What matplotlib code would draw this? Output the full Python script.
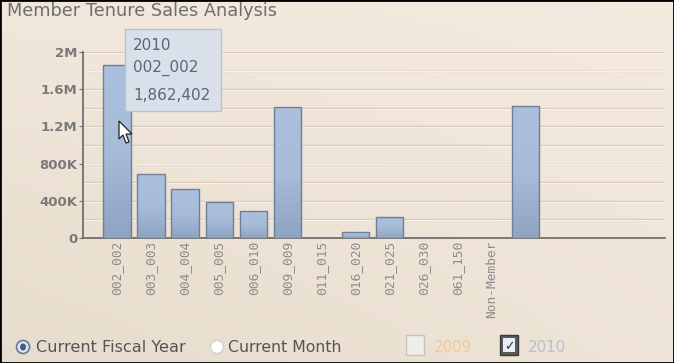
import numpy as np
import matplotlib
matplotlib.use("Agg")
import matplotlib.pyplot as plt
from matplotlib.patches import Rectangle, Ellipse, Polygon
from matplotlib.colors import LinearSegmentedColormap

# data
categories = ["002_002", "003_003", "004_004", "005_005", "006_010", "009_009",
              "011_015", "016_020", "021_025", "026_030", "061_150", "Non-Member", ""]
sales_2010 = [1862402, 690000, 523000, 387000, 290000, 1405000,
              0, 61000, 226000, 0, 0, 0, 1416000]
y_ticks = [0, 400000, 800000, 1200000, 1600000, 2000000]
y_tick_labels = ["0", "400K", "800K", "1.2M", "1.6M", "2M"]

W, H = 674, 363
fig = plt.figure(figsize=(W / 100, H / 100), dpi=100)

# beige background gradient
bg = fig.add_axes([0, 0, 1, 1], zorder=-10)
yy, xx = np.mgrid[0:1:100j, 0:1:100j]
top = np.array([0.955, 0.915, 0.870])
bot = np.array([0.905, 0.865, 0.805])
t = (1 - yy)[..., None] * 0.8 + (1 - xx)[..., None] * 0.2
img = bot * t + top * (1 - t)
img = img + (xx * (1 - yy))[..., None] * np.array([0.02, 0.02, 0.025])
bg.imshow(np.clip(img, 0, 1), extent=[0, 1, 0, 1], aspect="auto", origin="lower")
bg.set_xlim(0, 1)
bg.set_ylim(0, 1)
bg.axis("off")

ax = fig.add_axes([83 / W, 1 - 238 / H, (665 - 83) / W, (238 - 52) / H])
ax.patch.set_alpha(0)
x = np.arange(len(categories))
bars = ax.bar(x, sales_2010, width=0.8, color="#a3b9d6", linewidth=0, zorder=3)

grad = np.linspace(0, 1, 50)[:, None]
cmap = LinearSegmentedColormap.from_list("b", ["#8ea4c2", "#a6bcd9", "#abc0dc"])
for b in bars:
    if b.get_height() <= 0:
        continue
    im = ax.imshow(grad, cmap=cmap, aspect="auto", origin="lower", zorder=3.5,
                   extent=[b.get_x(), b.get_x() + b.get_width(), 0, b.get_height()])
    im.set_clip_path(b)
# outlines on top of the gradient
ax.bar(x, sales_2010, width=0.8, fill=False, edgecolor="#6f7f95", linewidth=1.0, zorder=4)

ax.set_xlim(-1, 16.1)
ax.set_ylim(0, 2000000)
for v in np.arange(200000, 2000001, 200000):
    ax.axhline(v, color="#d9cbbb", lw=1.0, zorder=1)
    ax.axhline(v - 9000, color="#f8efe6", lw=0.8, zorder=1)

ax.set_yticks(y_ticks)
ax.set_yticklabels(y_tick_labels, color="#7a7a7a", fontsize=9.5, fontweight="bold")
ax.set_xticks(x)
ax.set_xticklabels(categories, rotation=90, color="#8c8c8c", fontsize=9.3,
                   family="DejaVu Sans Mono")
ax.tick_params(axis="x", length=0, pad=2)
ax.tick_params(axis="y", length=3, color="#777777", pad=1)
for s in ["top", "right"]:
    ax.spines[s].set_visible(False)
ax.spines["left"].set_color("#666666")
ax.spines["bottom"].set_color("#666666")
ax.spines["left"].set_linewidth(1.2)
ax.spines["bottom"].set_linewidth(1.2)

# title
fig.text(7 / W, 1 - 11 / H, "Member Tenure Sales Analysis", color="#6e6e6e",
         fontsize=12.8, va="center", ha="left")

# tooltip
tip = Rectangle((125 / W, 1 - 111 / H), 96 / W, 82 / H, transform=fig.transFigure,
                facecolor="#d9e0ea", edgecolor="#b7c3d3", lw=1, zorder=20)
fig.patches.append(tip)
for ty, s in [(45, "2010"), (68, "002_002"), (96, "1,862,402")]:
    fig.text(133 / W, 1 - ty / H, s, color="#5f6575", fontsize=11,
             va="center", ha="left", zorder=21)

# mouse pointer over the first bar
cur = [(119, 121), (119, 139), (123, 135), (126, 143), (129, 142), (126, 134), (132, 134)]
fig.patches.append(Polygon([(px / W, 1 - py / H) for px, py in cur], closed=True,
                           transform=fig.transFigure, facecolor="white",
                           edgecolor="#222222", lw=0.9, zorder=22))

# bottom controls
ty = 1 - 347 / H
r1 = Ellipse((23 / W, ty), 13 / W, 13 / H, transform=fig.transFigure,
             facecolor="#dfe6f0", edgecolor="#6a7a92", lw=1.2)
r1d = Ellipse((23 / W, ty), 6 / W, 7 / H, transform=fig.transFigure,
              facecolor="#3f5f8a", edgecolor="none")
r2 = Ellipse((217 / W, ty), 13 / W, 13 / H, transform=fig.transFigure,
             facecolor="#ffffff", edgecolor="#d0d0d0", lw=1)
fig.patches.extend([r1, r1d, r2])
fig.text(36 / W, ty, "Current Fiscal Year", color="#555555", fontsize=11.6, va="center")
fig.text(228 / W, ty, "Current Month", color="#555555", fontsize=11.3, va="center")

c1 = Rectangle((406 / W, 1 - 355 / H), 18 / W, 20 / H, transform=fig.transFigure,
               facecolor="#f0ece8", edgecolor="#c4c4c4", lw=1)
c2 = Rectangle((500 / W, 1 - 355 / H), 18 / W, 20 / H, transform=fig.transFigure,
               facecolor="#5a5a5a", edgecolor="#3a3a3a", lw=1)
c2i = Rectangle((503 / W, 1 - 352 / H), 12 / W, 14 / H, transform=fig.transFigure,
                facecolor="#e8eef6", edgecolor="none")
fig.patches.extend([c1, c2, c2i])
fig.text(509 / W, ty, "\u2713", color="#333333", fontsize=9, ha="center", va="center")
fig.text(434 / W, ty, "2009", color="#f6c896", fontsize=10.8, va="center")
fig.text(528 / W, ty, "2010", color="#b5c1d2", fontsize=10.8, va="center")

# outer border
fig.patches.append(Rectangle((0, 0), 1, 1, transform=fig.transFigure, fill=False,
                             edgecolor="black", lw=2))

fig.savefig("out.png", dpi=100)
